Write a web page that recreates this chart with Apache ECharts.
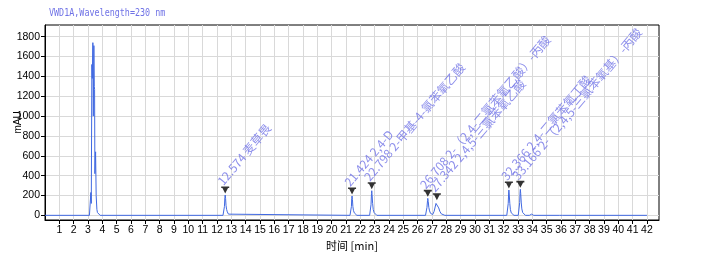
<!DOCTYPE html>
<html><head><meta charset="utf-8">
<script src="https://cdn.jsdelivr.net/npm/echarts@6/dist/echarts.min.js"></script>
<style>html,body{margin:0;padding:0;background:#fff}#c{width:701px;height:262px}</style>
</head><body><div id="c"></div>
<script>
const titleText = 'VWD1A,Wavelength=230 nm';
const xTicks = [1,2,3,4,5,6,7,8,9,10,11,12,13,14,15,16,17,18,19,20,21,22,23,24,25,26,27,28,29,30,31,32,33,34,35,36,37,38,39,40,41,42];
const yTicks = [0,200,400,600,800,1000,1200,1400,1600,1800];

// signal segments [time(min), mAU]
const baseStart = [[0,0],[3.10,0]];
const solventPeak = [[3.17,3],[3.20,230],[3.23,120],[3.27,1520],[3.30,1380],[3.34,1740],[3.37,1000],[3.41,1710],[3.44,1300],[3.46,1270],[3.48,420],[3.53,640],[3.57,200],[3.62,60],[3.66,28],[3.75,10],[3.85,0]];
const peak1 = [[12.42,0],[12.47,12],[12.52,90],[12.55,180],[12.574,205],[12.60,170],[12.63,100],[12.67,60],[12.72,35],[12.80,12],[12.90,0]];
const peak2 = [[21.28,0],[21.33,10],[21.38,90],[21.40,170],[21.424,195],[21.45,160],[21.48,90],[21.52,50],[21.58,25],[21.66,8],[21.76,0]];
const peak3 = [[22.65,0],[22.70,10],[22.75,110],[22.78,220],[22.798,248],[22.82,210],[22.86,120],[22.90,60],[22.96,28],[23.05,8],[23.15,0]];
const peak45 = [[26.55,0],[26.60,10],[26.65,80],[26.69,150],[26.708,171],[26.74,140],[26.78,80],[26.83,45],[26.90,20],[26.98,8],[27.05,8],[27.15,40],[27.28,120],[27.342,137],[27.40,115],[27.47,75],[27.55,40],[27.65,15],[27.78,3],[27.90,0]];
const peak67 = [[32.22,0],[32.27,10],[32.32,120],[32.35,225],[32.366,255],[32.39,215],[32.43,120],[32.47,60],[32.53,25],[32.62,8],[32.72,0],[33.02,0],[33.07,10],[33.12,130],[33.15,235],[33.166,262],[33.19,220],[33.23,125],[33.27,65],[33.33,28],[33.42,10],[33.52,0]];
const tailBumps = [[33.80,0],[33.95,12],[34.10,0],[35.90,0],[36.00,5],[36.10,0],[42.0,0]];

const peakTimes = [12.574, 21.424, 22.798, 26.708, 27.342, 32.366, 33.166];
const peakHeights = [205, 195, 248, 171, 137, 255, 262];
const peakNames = ['麦草畏','2,4-D','2-甲基-4-氯苯氧乙酸','2-（2,4-二氯苯氧乙酸）-丙酸','2,4,5-三氯苯氧乙酸','2,4-二氯苯氧丁酸','2-（2,4,5-三氯苯氧基）-丙酸'];

const signal = [].concat(baseStart, solventPeak, peak1, peak2, peak3, peak45, peak67, tailBumps);
const markers = peakTimes.map((t, i) => ({value: [t, peakHeights[i]], name: t.toFixed(3) + ' ' + peakNames[i]}));

const chart = echarts.init(document.getElementById('c'), null, {renderer: 'canvas'});
const txt = '#6f72e6';
chart.setOption({
  animation: false,
  backgroundColor: '#fff',
  graphic: [{
    type: 'text', left: 49, top: 8, scaleX: 0.84,
    style: {text: titleText, font: '10px "DejaVu Sans Mono"', fill: txt}
  }],
  grid: {left: 45, right: 42, top: 25, bottom: 42, containLabel: false, outerBoundsMode: 'none',
         show: true, borderColor: '#000', borderWidth: 1, backgroundColor: 'transparent'},
  xAxis: {
    type: 'value', min: 0, max: 42.84,
    name: '时间 [min]', nameLocation: 'middle', nameGap: 20, nameMoveOverlap: false,
    nameTextStyle: {color: '#000', fontSize: 11, fontFamily: 'Noto Sans CJK SC'},
    axisLine: {onZero: false, lineStyle: {color: '#000', width: 1}},
    axisTick: {customValues: xTicks, length: 4, lineStyle: {color: '#000'}},
    axisLabel: {customValues: xTicks, color: '#000', fontSize: 10.5, fontFamily: 'Liberation Sans', margin: 5, formatter: v => String(v)},
    splitLine: {show: true, lineStyle: {color: '#d9d9d9', width: 1}}
  },
  yAxis: {
    type: 'value', min: -47, max: 1918,
    name: 'mAU', nameLocation: 'middle', nameGap: 22, nameRotate: 90, nameMoveOverlap: false,
    nameTextStyle: {color: '#000', fontSize: 10, fontFamily: 'Liberation Sans'},
    axisLine: {show: true, onZero: false, lineStyle: {color: '#000', width: 1}},
    axisTick: {show: true, customValues: yTicks, length: 4, lineStyle: {color: '#000'}},
    axisLabel: {customValues: yTicks, color: '#000', fontSize: 10.5, fontFamily: 'Liberation Sans', margin: 5, formatter: v => String(v)},
    splitLine: {show: true, lineStyle: {color: '#d9d9d9', width: 1}}
  },
  series: [
    {type: 'line', data: signal, showSymbol: false, symbol: 'none', sampling: null,
     lineStyle: {color: '#4169e1', width: 1}, z: 3},
    {type: 'scatter', data: markers,
     symbol: 'path://M0,0 L10,0 L10,2 L8.5,2 L5,9 L1.5,2 L0,2 Z',
     symbolSize: [8, 7], symbolKeepAspect: false, symbolOffset: [0, -5],
     itemStyle: {color: '#000'}, z: 4,
     label: {show: true, position: 'top', distance: 0, rotate: 50, align: 'left', verticalAlign: 'bottom',
       offset: [-1, 0], color: txt, fontSize: 12, fontFamily: 'Noto Sans CJK SC',
       formatter: p => p.name}
    }
  ]
});
</script></body></html>
